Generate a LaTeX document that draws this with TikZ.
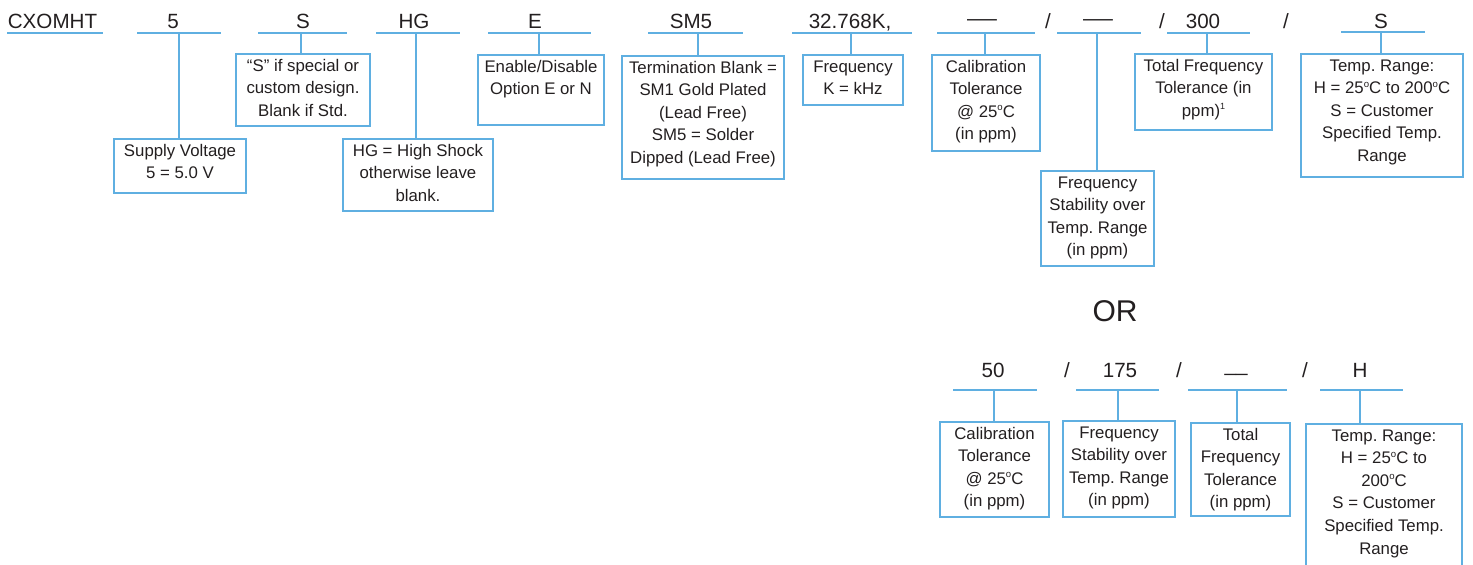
\documentclass[tikz,border=0pt]{standalone}
\usepackage{fontspec}
\setmainfont{Liberation Sans}
\frenchspacing
\definecolor{lb}{RGB}{95,175,225}
\definecolor{tx}{RGB}{35,31,32}
\newcommand\bxt[3]{\parbox[c][#2][t]{#1}{\centering\vspace*{0.6pt}\strut #3}}
\newcommand\dg{\raisebox{3.2pt}{\fontsize{4.8pt}{5pt}\selectfont o}}
\newcommand\longdash{\raisebox{1.4pt}{\scalebox{1.45}[1]{—}}}
\newcommand\lowbar{\raisebox{3pt}{\_\_}}
\begin{document}
\begin{tikzpicture}[x=0.5pt,y=-0.5pt,
  lbl/.style={font=\fontsize{10.3pt}{12pt}\selectfont, text=tx, anchor=base, inner sep=0pt},
  orlbl/.style={font=\fontsize{15pt}{18pt}\selectfont, text=tx, anchor=base, inner sep=0pt},
  uline/.style={draw=lb, line width=1pt},
  conn/.style={draw=lb, line width=1pt},
  bx/.style={draw=lb, line width=1pt, inner sep=0pt, anchor=north west, text=tx,
    font=\fontsize{8.4pt}{11.3pt}\selectfont},
]
\clip (0,0) rectangle (1473,564);

% ---------- top row labels ----------
\node[lbl] (tcx)  at (52.5,28) {CXOMHT};
\node[lbl] (t5)   at (173,28) {5};
\node[lbl] (ts)   at (303,28) {S};
\node[lbl] (thg)  at (414,28) {HG};
\node[lbl] (te)   at (535,28) {E};
\node[lbl] (tsm)  at (691,28) {SM5};
\node[lbl] (tfq)  at (850,28) {32.768K,};
\node[lbl] (tcal) at (982,28) {\longdash};
\node[lbl] (sl1)  at (1048,28) {/};
\node[lbl] (tfs)  at (1098,28) {\longdash};
\node[lbl] (sl2)  at (1162,28) {/};
\node[lbl] (ttf)  at (1203,28) {300};
\node[lbl] (sl3)  at (1286,28) {/};
\node[lbl] (ttr)  at (1381,28) {S};

% underlines
\draw[uline] (7,33) -- (103,33);
\draw[uline] (137,33) -- (221,33);
\draw[uline] (258,33) -- (347,33);
\draw[uline] (376,33) -- (460,33);
\draw[uline] (488,33) -- (591,33);
\draw[uline] (648,33) -- (743,33);
\draw[uline] (792,33) -- (912,33);
\draw[uline] (937,33) -- (1035,33);
\draw[uline] (1057,33) -- (1141,33);
\draw[uline] (1167,33) -- (1250,33);
\draw[uline] (1341,32) -- (1425,32);

\coordinate (u5)   at (179,33);
\coordinate (us)   at (301,33);
\coordinate (uhg)  at (416,33);
\coordinate (ue)   at (539,33);
\coordinate (usm)  at (698,33);
\coordinate (ufq)  at (851,33);
\coordinate (ucal) at (985,33);
\coordinate (ufs)  at (1097,33);
\coordinate (utf)  at (1207,33);
\coordinate (utr)  at (1381,32);

% ---------- top row boxes ----------
\node[bx] (sv) at (113,138) {\bxt{66pt}{27pt}{Supply Voltage\\5 = 5.0 V}};
\node[bx] (sd) at (235,53) {\bxt{67pt}{36pt}{“S” if special or\\custom design.\\Blank if Std.}};
\node[bx] (hg) at (342,138) {\bxt{75pt}{36pt}{HG = High Shock\\otherwise leave\\blank.}};
\node[bx] (en) at (477,54) {\bxt{63pt}{35pt}{Enable/Disable\\Option E or N}};
\node[bx] (tm) at (621,55) {\bxt{81pt}{61.5pt}{Termination Blank =\\SM1 Gold Plated\\(Lead Free)\\SM5 = Solder\\Dipped (Lead Free)}};
\node[bx] (fq) at (802,54) {\bxt{50pt}{25pt}{Frequency\\K = kHz}};
\node[bx] (cal) at (931,54) {\bxt{54pt}{48pt}{Calibration\\Tolerance\\@ 25\dg C\\(in ppm)}};
\node[bx] (fs) at (1040,170) {\bxt{56.5pt}{47.5pt}{Frequency\\Stability over\\Temp. Range\\(in ppm)}};
\node[bx] (tft) at (1134,53) {\bxt{68.5pt}{38pt}{Total Frequency\\Tolerance (in\\ppm){\fontsize{4.5pt}{5pt}\selectfont\raisebox{3.4pt}{1}}}};
\node[bx] (tr) at (1300,53) {\bxt{81pt}{61.5pt}{Temp. Range:\\H = 25\dg C to 200\dg C\\S = Customer\\Specified Temp.\\Range}};

\draw[conn] (u5) -- (u5 |- sv.north);
\draw[conn] (us) -- (us |- sd.north);
\draw[conn] (uhg) -- (uhg |- hg.north);
\draw[conn] (ue) -- (ue |- en.north);
\draw[conn] (usm) -- (usm |- tm.north);
\draw[conn] (ufq) -- (ufq |- fq.north);
\draw[conn] (ucal) -- (ucal |- cal.north);
\draw[conn] (ufs) -- (ufs |- fs.north);
\draw[conn] (utf) -- (utf |- tft.north);
\draw[conn] (utr) -- (utr |- tr.north);

% ---------- OR ----------
\node[orlbl] (or) at (1115,321) {OR};

% ---------- bottom row ----------
\node[lbl] (b50)  at (993,377) {50};
\node[lbl] (bs1)  at (1067,377) {/};
\node[lbl] (b175) at (1120,377) {175};
\node[lbl] (bs2)  at (1179,377) {/};
\node[lbl] (bbl)  at (1236,377) {\lowbar};
\node[lbl] (bs3)  at (1305,377) {/};
\node[lbl] (bh)   at (1360,377) {H};

\draw[uline] (953,390) -- (1037,390);
\draw[uline] (1076,390) -- (1159,390);
\draw[uline] (1188,390) -- (1287,390);
\draw[uline] (1320,390) -- (1403,390);

\coordinate (v50)  at (994,390);
\coordinate (v175) at (1118,390);
\coordinate (vbl)  at (1237,390);
\coordinate (vh)   at (1360,390);

\node[bx] (cal2) at (939,421) {\bxt{54.5pt}{47.5pt}{Calibration\\Tolerance\\@ 25\dg C\\(in ppm)}};
\node[bx] (fs2) at (1062,420) {\bxt{56pt}{48pt}{Frequency\\Stability over\\Temp. Range\\(in ppm)}};
\node[bx] (tft2) at (1190,422) {\bxt{49.5pt}{46.5pt}{Total\\Frequency\\Tolerance\\(in ppm)}};
\node[bx] (tr2) at (1305,423) {\bxt{78pt}{85pt}{Temp. Range:\\H = 25\dg C to\\200\dg C\\S = Customer\\Specified Temp.\\Range}};

\draw[conn] (v50) -- (v50 |- cal2.north);
\draw[conn] (v175) -- (v175 |- fs2.north);
\draw[conn] (vbl) -- (vbl |- tft2.north);
\draw[conn] (vh) -- (vh |- tr2.north);
\end{tikzpicture}
\end{document}
